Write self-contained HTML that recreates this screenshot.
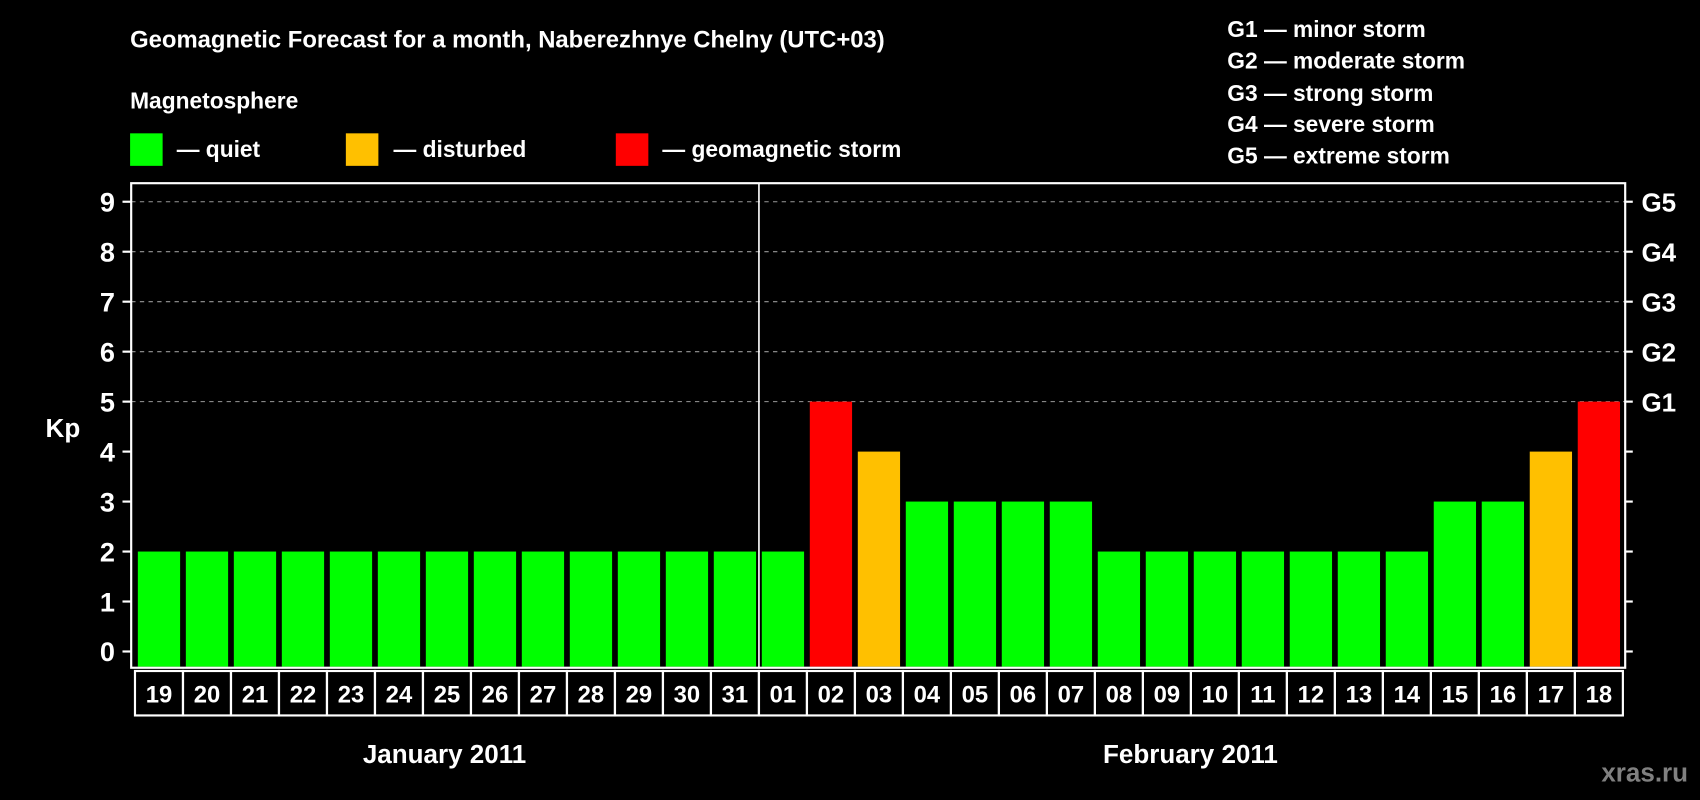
<!DOCTYPE html>
<html><head><meta charset="utf-8"><style>
html,body{margin:0;padding:0;background:#000;}
svg{display:block;font-family:"Liberation Sans",Arial,sans-serif;font-weight:bold;}
</style></head><body>
<svg id="chart" width="1700" height="800" viewBox="0 0 1568 738" preserveAspectRatio="none" xmlns="http://www.w3.org/2000/svg">
<rect x="0" y="0" width="1568" height="738" fill="#000"/>
<text x="120" y="44" fill="#fff" font-size="22">Geomagnetic Forecast for a month, Naberezhnye Chelny (UTC+03)</text>
<text x="120" y="100" fill="#fff" font-size="21">Magnetosphere</text>
<g><rect x="120" y="123" width="30" height="30" fill="#00ff00"/><text x="163" y="145" fill="#fff" font-size="21">— quiet</text></g>
<g><rect x="319" y="123" width="30" height="30" fill="#ffc000"/><text x="363" y="145" fill="#fff" font-size="21">— disturbed</text></g>
<g><rect x="568" y="123" width="30" height="30" fill="#ff0000"/><text x="611" y="145" fill="#fff" font-size="21">— geomagnetic storm</text></g>
<g fill="#fff" font-size="21">
<text x="1132" y="34">G1 — minor storm</text>
<text x="1132" y="63">G2 — moderate storm</text>
<text x="1132" y="93">G3 — strong storm</text>
<text x="1132" y="122">G4 — severe storm</text>
<text x="1132" y="151">G5 — extreme storm</text>
</g>
<text x="58" y="403" fill="#fff" font-size="24" text-anchor="middle">Kp</text>
<g id="grid"></g><g id="bars"></g><g id="axes"></g><g id="cells"></g>
<text x="410" y="704" fill="#fff" font-size="24" text-anchor="middle">January 2011</text>
<text x="1098" y="704" fill="#fff" font-size="24" text-anchor="middle">February 2011</text>
<text x="1557" y="721" fill="#808080" font-size="24" text-anchor="end">xras.ru</text>
</svg>
<script>
const days=["19","20","21","22","23","24","25","26","27","28","29","30","31","01","02","03","04","05","06","07","08","09","10","11","12","13","14","15","16","17","18"];
const kpValues=[2,2,2,2,2,2,2,2,2,2,2,2,2,2,5,4,3,3,3,3,2,2,2,2,2,2,2,3,3,4,5];
const yTicks=[0,1,2,3,4,5,6,7,8,9];
const gLabels=["G1","G2","G3","G4","G5"];
const NS="http://www.w3.org/2000/svg";
const L=121,R=1499,T=169,B=616,x0=124.5,step=44.27,bw=39;
const y=v=>601-v*46.1;
const xc=i=>x0+i*step+step/2;
function mk(tag,at,parent){const e=document.createElementNS(NS,tag);for(const k in at)e.setAttribute(k,at[k]);document.getElementById(parent).appendChild(e);return e;}
const color=v=>v>=5?"#ff0000":v>=4?"#ffc000":"#00ff00";
yTicks.forEach(v=>{
  if(v>=5){const g=mk("line",{x1:L,x2:R,y1:y(v),y2:y(v),stroke:"#999","stroke-dasharray":"4 4","stroke-width":1},"grid");
  
  }
  const t=mk("line",{x1:L-8,x2:L,y1:y(v),y2:y(v),stroke:"#fff","stroke-width":2},"axes");
  
  
  const t2=mk("line",{x1:R,x2:R+7,y1:y(v),y2:y(v),stroke:"#fff","stroke-width":2},"axes");
  
  
  const l=mk("text",{x:106,y:y(v)+9,fill:"#fff","font-size":25,"text-anchor":"end"},"axes");
  l.textContent=v;
  
  
  if(v>=5){const g=mk("text",{x:1514,y:y(v)+9,fill:"#fff","font-size":24},"axes");
  g.textContent=gLabels[v-5];
  
  }
});
kpValues.forEach((v,i)=>{
  const r=mk("rect",{x:xc(i)-bw/2,y:y(v),width:bw,height:y(0)-y(v)+14,fill:color(v)},"bars");
  
  
  const c=mk("rect",{x:x0+i*step,y:619,width:step,height:41,fill:"none",stroke:"#fff","stroke-width":2},"cells");
  
  
  const t=mk("text",{x:xc(i),y:648,fill:"#fff","font-size":22,"text-anchor":"middle"},"cells");
  t.textContent=days[i];
  
  
});
const f=mk("rect",{x:L,y:T,width:R-L,height:B-T,fill:"none",stroke:"#fff","stroke-width":2},"axes");


const ix=days.indexOf("01");
const m=mk("line",{x1:x0+ix*step,x2:x0+ix*step,y1:T,y2:B,stroke:"#fff","stroke-width":1.5},"axes");


</script>
</body></html>
